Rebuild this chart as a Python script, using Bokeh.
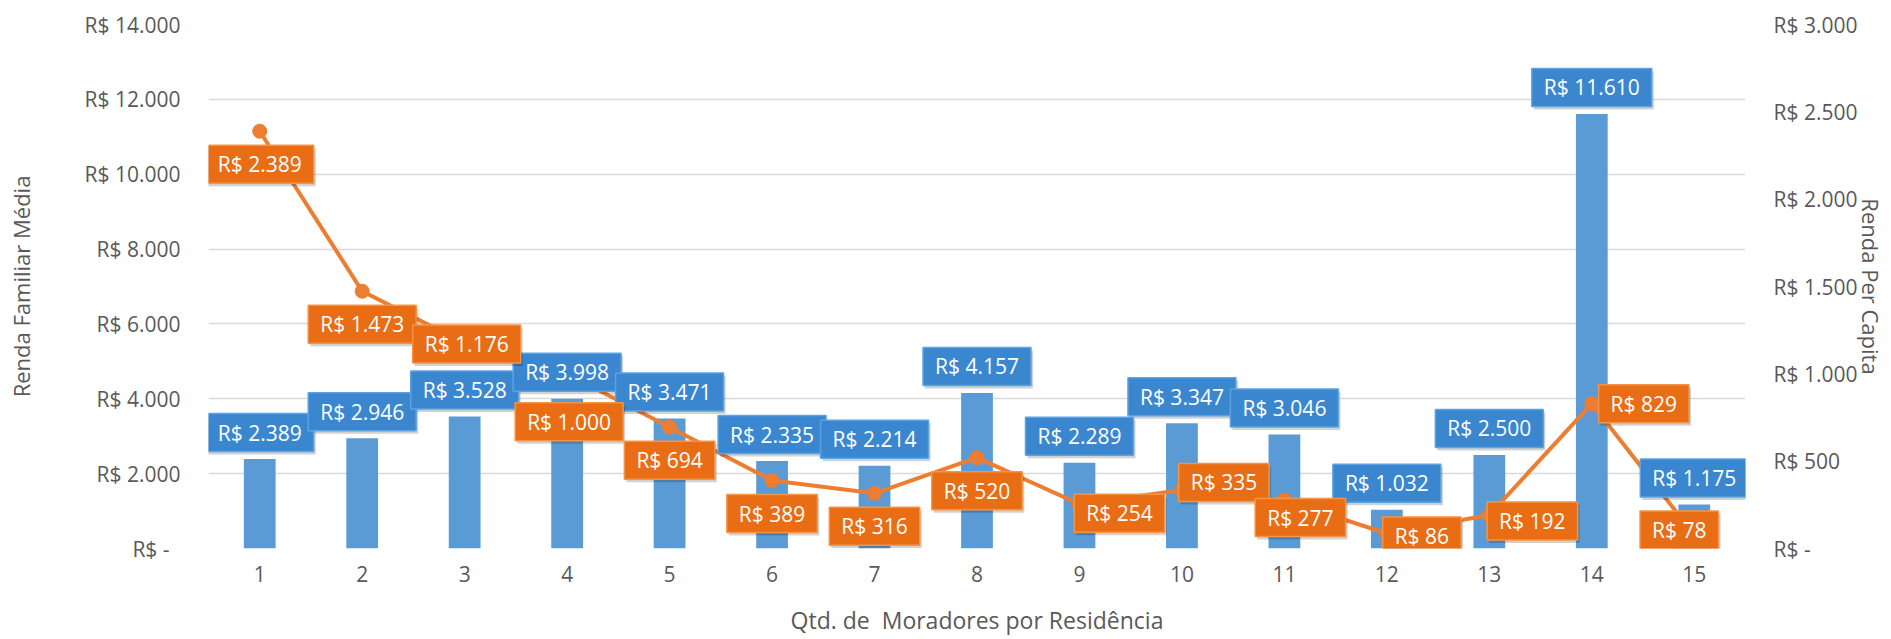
from bokeh.plotting import figure
from bokeh.models import Range1d, LinearAxis, FixedTicker, ColumnDataSource
from bokeh.core.properties import value
from bokeh.embed import file_html
from bokeh.resources import INLINE

# ---- data ----
moradores = list(range(1, 16))
renda_familiar = [2389, 2946, 3528, 3998, 3471, 2335, 2214, 4157, 2289, 3347, 3046, 1032, 2500, 11610, 1175]
renda_per_capita = [2389, 1473, 1176, 1000, 694, 389, 316, 520, 254, 335, 277, 86, 192, 829, 78]
left_ticks = [0, 2000, 4000, 6000, 8000, 10000, 12000, 14000]
right_ticks = [0, 500, 1000, 1500, 2000, 2500, 3000]
x_title = "Qtd. de\u00a0 Moradores por Residência"
left_title = "Renda Familiar Média"
right_title = "Renda Per Capita"

# label placement (screen px offsets, style only)
blue_dx = [0] * 15
blue_dy = [-26.5] * 15
orange_dx = [0, 0, 2, 2, 0, 0, 0, 0, 40, 42, 16, 35, 43, 52, -15]
orange_dy = [33, 33, 1, 48, 33, 33, 33, 33, 9, -7.5, 17.5, 2.5, 6, 0, -5]


def brl(v):
    if v == 0:
        return "R$ -"
    return "R$ " + f"{v:,}".replace(",", ".")


FONT = value("Open Sans")
GREY = "#595959"

src = ColumnDataSource(dict(
    x=moradores,
    fam=renda_familiar,
    pc=renda_per_capita,
    fam_lbl=[brl(v) for v in renda_familiar],
    pc_lbl=[brl(v) for v in renda_per_capita],
    bdx=blue_dx,
    bdy=blue_dy,
    bdx_s=[d + 2 for d in blue_dx],
    bdy_s=[d + 3 for d in blue_dy],
    odx=orange_dx,
    ody=orange_dy,
    odx_s=[d + 2 for d in orange_dx],
    ody_s=[d + 3 for d in orange_dy],
))

p = figure(width=1891, height=639,
           x_range=Range1d(0.5, 15.5), y_range=Range1d(0, 14000),
           output_backend="svg", toolbar_location=None,
           min_border_left=208, min_border_right=146,
           min_border_top=24, min_border_bottom=91)
p.outline_line_color = None
p.background_fill_color = "white"
p.border_fill_color = "white"
p.extra_y_ranges = {"pc": Range1d(0, 3000)}

# grid
p.xgrid.grid_line_color = None
p.ygrid.ticker = FixedTicker(ticks=left_ticks)
p.ygrid.grid_line_color = "#D9D9D9"
p.ygrid.grid_line_width = 1.5


def style_axis(ax, standoff, title, title_standoff, title_size):
    ax.axis_line_color = None
    ax.major_tick_line_color = None
    ax.minor_tick_line_color = None
    ax.major_tick_out = 0
    ax.major_tick_in = 0
    ax.minor_tick_out = 0
    ax.minor_tick_in = 0
    ax.major_label_standoff = standoff
    ax.major_label_text_font = "Open Sans"
    ax.major_label_text_font_size = "21px"
    ax.major_label_text_color = GREY
    ax.axis_label = title
    ax.axis_label_text_font = "Open Sans"
    ax.axis_label_text_font_size = title_size
    ax.axis_label_text_font_style = "normal"
    ax.axis_label_text_color = GREY
    ax.axis_label_standoff = title_standoff


# left axis
ya = p.yaxis[0]
ya.ticker = FixedTicker(ticks=left_ticks)
ovr = {t: brl(t) for t in left_ticks}
ovr[0] = "R$ -\u00a0\u00a0"
ya.major_label_overrides = ovr
style_axis(ya, 28, left_title, 46, "22px")

# right axis
ra = LinearAxis(y_range_name="pc")
ra.ticker = FixedTicker(ticks=right_ticks)
ra.major_label_overrides = {t: brl(t) for t in right_ticks}
style_axis(ra, 28, right_title, -4, "22px")
p.add_layout(ra, "right")

# bottom axis
xa = p.xaxis[0]
xa.ticker = FixedTicker(ticks=moradores)
style_axis(xa, 17, x_title, 19, "23px")

# bars
p.vbar(x="x", top="fam", width=0.31, source=src,
       fill_color="#5B9BD5", line_color=None)

# line + markers
p.line(x="x", y="pc", source=src, y_range_name="pc",
       line_color="#ED7D31", line_width=4)
p.scatter(x="x", y="pc", source=src, y_range_name="pc",
          size=14, fill_color="#ED7D31", line_color="#ED7D31")

pad = dict(left=12, right=12, top=5, bottom=5)

# blue labels (shadow, then box)
p.text(x="x", y="fam", text="fam_lbl", source=src,
       x_offset="bdx_s", y_offset="bdy_s",
       text_align="center", text_baseline="middle",
       text_font=FONT, text_font_size=value("21px"), text_alpha=0,
       background_fill_color="#000000", background_fill_alpha=0.18,
       padding=pad)
p.text(x="x", y="fam", text="fam_lbl", source=src,
       x_offset="bdx", y_offset="bdy",
       text_align="center", text_baseline="middle",
       text_font=FONT, text_font_size=value("21px"), text_color="white",
       background_fill_color="#3A87CF", border_line_color="#5DA3E3",
       border_line_width=1.5, padding=pad)

# orange labels
p.text(x="x", y="pc", text="pc_lbl", source=src, y_range_name="pc",
       x_offset="odx_s", y_offset="ody_s",
       text_align="center", text_baseline="middle",
       text_font=FONT, text_font_size=value("21px"), text_alpha=0,
       background_fill_color="#000000", background_fill_alpha=0.18,
       padding=pad)
p.text(x="x", y="pc", text="pc_lbl", source=src, y_range_name="pc",
       x_offset="odx", y_offset="ody",
       text_align="center", text_baseline="middle",
       text_font=FONT, text_font_size=value("21px"), text_color="white",
       background_fill_color="#E86D14", border_line_color="#F39446",
       border_line_width=1.5, padding=pad)

open("out.html", "w").write(file_html(p, INLINE))
